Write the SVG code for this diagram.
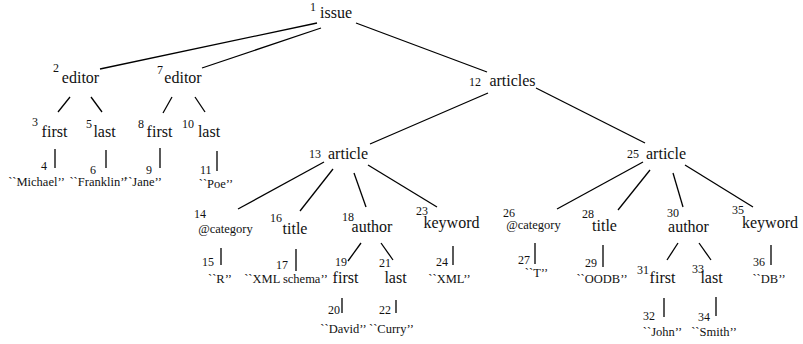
<svg xmlns="http://www.w3.org/2000/svg" width="803" height="344" viewBox="0 0 803 344">
<style>
.t text{fill:#111}
.l{font-size:16px;text-anchor:middle}
.v{font-size:12.5px;text-anchor:middle}
.n{font-size:12px}
.e line{stroke:#000;stroke-width:1.3;stroke-linecap:butt}
</style>
<rect width="803" height="344" fill="#fff"/>
<g class="e" id="connectors">
<line x1="317" y1="23" x2="100" y2="69"/>
<line x1="321" y1="28" x2="202" y2="68"/>
<line x1="356" y1="23" x2="487" y2="72"/>
<line x1="70" y1="97" x2="58" y2="112"/>
<line x1="91" y1="97" x2="102" y2="112"/>
<line x1="172" y1="97" x2="163" y2="113"/>
<line x1="195" y1="97" x2="205" y2="112"/>
<line x1="55" y1="149" x2="55" y2="168"/>
<line x1="106" y1="150" x2="106" y2="168"/>
<line x1="160" y1="148" x2="160" y2="168"/>
<line x1="217" y1="151" x2="217" y2="171"/>
<line x1="488" y1="93" x2="370" y2="144"/>
<line x1="536" y1="88" x2="645" y2="143"/>
<line x1="324" y1="162" x2="238" y2="209"/>
<line x1="333" y1="169" x2="300" y2="211"/>
<line x1="354" y1="173" x2="366" y2="207"/>
<line x1="368" y1="165" x2="437" y2="207"/>
<line x1="221" y1="248" x2="221" y2="265"/>
<line x1="296" y1="249" x2="296" y2="271"/>
<line x1="361" y1="243" x2="348" y2="261"/>
<line x1="381" y1="243" x2="393" y2="260"/>
<line x1="453" y1="246" x2="453" y2="265"/>
<line x1="342" y1="298" x2="342" y2="313"/>
<line x1="396" y1="300" x2="396" y2="313"/>
<line x1="643" y1="162" x2="557" y2="209"/>
<line x1="650" y1="170" x2="618" y2="210"/>
<line x1="673" y1="173" x2="683" y2="207"/>
<line x1="685" y1="165" x2="753" y2="207"/>
<line x1="535" y1="243" x2="535" y2="264"/>
<line x1="603" y1="245" x2="603" y2="267"/>
<line x1="678" y1="243" x2="667" y2="260"/>
<line x1="699" y1="243" x2="711" y2="260"/>
<line x1="771" y1="245" x2="771" y2="265"/>
<line x1="664" y1="298" x2="664" y2="317"/>
<line x1="716" y1="297" x2="716" y2="316"/>
</g>
<g class="t" font-family="'Liberation Serif', 'Times New Roman', Times, serif">
<g id="n1"><text class="n" x="310" y="11">1</text><text class="l" x="336" y="18">issue</text></g>
<g id="n2"><text class="n" x="53" y="72">2</text><text class="l" x="80.5" y="83">editor</text></g>
<g id="n7"><text class="n" x="157" y="74">7</text><text class="l" x="183" y="83">editor</text></g>
<g id="n3"><text class="n" x="32" y="126">3</text><text class="l" x="54.5" y="137">first</text></g>
<g id="n5"><text class="n" x="86" y="128">5</text><text class="l" x="104.5" y="137">last</text></g>
<g id="n8"><text class="n" x="138" y="128">8</text><text class="l" x="159.5" y="137">first</text></g>
<g id="n10"><text class="n" x="182" y="128">10</text><text class="l" x="209" y="137">last</text></g>
<g id="n4"><text class="n" x="41" y="170">4</text><text class="v" x="36.5" y="186">``Michael’’</text></g>
<g id="n6"><text class="n" x="90" y="174">6</text><text class="v" x="98.5" y="186">``Franklin’’</text></g>
<g id="n9"><text class="n" x="146" y="174">9</text><text class="v" x="143" y="186">``Jane’’</text></g>
<g id="n11"><text class="n" x="200" y="174">11</text><text class="v" x="216" y="188">``Poe’’</text></g>
<g id="n12"><text class="n" x="469" y="86">12</text><text class="l" x="512.5" y="86">articles</text></g>
<g id="n13"><text class="n" x="309" y="158">13</text><text class="l" x="348" y="159">article</text></g>
<g id="n25"><text class="n" x="627" y="158">25</text><text class="l" x="666" y="159">article</text></g>
<g id="n14"><text class="n" x="194" y="218">14</text><text class="v" x="225.5" y="233">@category</text></g>
<g id="n16"><text class="n" x="270" y="222">16</text><text class="l" x="295" y="234">title</text></g>
<g id="n18"><text class="n" x="342" y="221">18</text><text class="l" x="372" y="232">author</text></g>
<g id="n23"><text class="n" x="416" y="215">23</text><text class="l" x="451.5" y="228">keyword</text></g>
<g id="n15"><text class="n" x="202" y="266">15</text><text class="v" x="220" y="283">``R’’</text></g>
<g id="n17"><text class="n" x="276" y="269">17</text><text class="v" x="286" y="283">``XML schema’’</text></g>
<g id="n19"><text class="n" x="335" y="266">19</text><text class="l" x="345.5" y="283">first</text></g>
<g id="n21"><text class="n" x="379" y="267">21</text><text class="l" x="395.5" y="283">last</text></g>
<g id="n24"><text class="n" x="436" y="266">24</text><text class="v" x="449.5" y="283">``XML’’</text></g>
<g id="n20"><text class="n" x="328" y="314">20</text><text class="v" x="343.5" y="333">``David’’</text></g>
<g id="n22"><text class="n" x="379" y="314">22</text><text class="v" x="391.5" y="333">``Curry’’</text></g>
<g id="n26"><text class="n" x="503" y="217">26</text><text class="v" x="533.5" y="229">@category</text></g>
<g id="n28"><text class="n" x="582" y="218">28</text><text class="l" x="604.5" y="231">title</text></g>
<g id="n30"><text class="n" x="667" y="217">30</text><text class="l" x="688.5" y="232">author</text></g>
<g id="n35"><text class="n" x="732" y="214">35</text><text class="l" x="770" y="228">keyword</text></g>
<g id="n27"><text class="n" x="518" y="264">27</text><text class="v" x="536.5" y="277">``T’’</text></g>
<g id="n29"><text class="n" x="585" y="267">29</text><text class="v" x="602" y="283">``OODB’’</text></g>
<g id="n31"><text class="n" x="637" y="274">31</text><text class="l" x="662.5" y="283">first</text></g>
<g id="n33"><text class="n" x="692" y="273">33</text><text class="l" x="711.5" y="283">last</text></g>
<g id="n36"><text class="n" x="753" y="266">36</text><text class="v" x="769" y="283">``DB’’</text></g>
<g id="n32"><text class="n" x="643" y="320">32</text><text class="v" x="662.5" y="336">``John’’</text></g>
<g id="n34"><text class="n" x="698" y="321">34</text><text class="v" x="714" y="336">``Smith’’</text></g>
</g>
</svg>
